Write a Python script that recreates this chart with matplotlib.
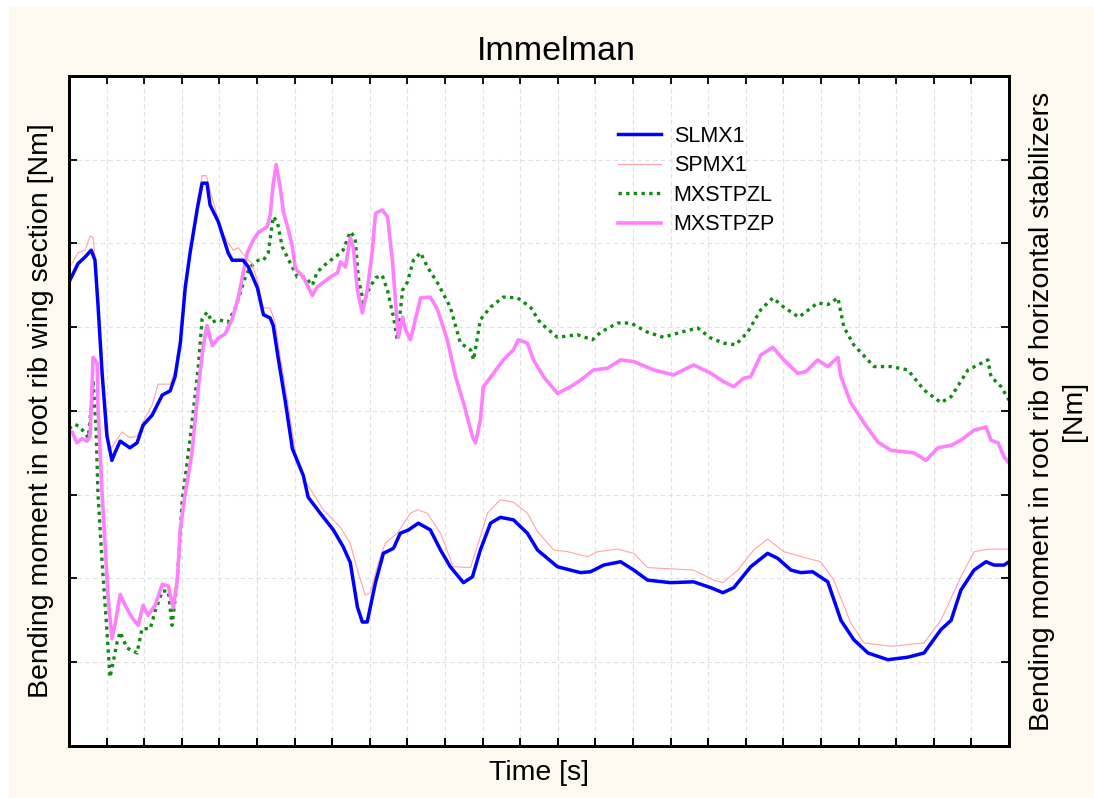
import matplotlib
matplotlib.use('Agg')
import matplotlib.pyplot as plt
from matplotlib.patches import Rectangle
from matplotlib.ticker import MultipleLocator

plt.rcParams['font.family'] = ['Liberation Sans', 'DejaVu Sans']

# time axis in arbitrary units (25 tick intervals), moments in tick units (0..8)
slmx1_t = [0.00, 0.24, 0.43, 0.59, 0.69, 0.77, 0.88, 1.01, 1.14, 1.22,
           1.36, 1.62, 1.81, 1.97, 2.21, 2.48, 2.69, 2.82, 2.96, 3.09,
           3.22, 3.41, 3.54, 3.67, 3.75, 3.97, 4.23, 4.34, 4.63, 4.77,
           5.01, 5.17, 5.35, 5.43, 5.56, 5.75, 5.94, 6.23, 6.36, 6.68,
           7.03, 7.29, 7.48, 7.67, 7.80, 7.93, 8.15, 8.36, 8.63, 8.81,
           9.03, 9.29, 9.61, 9.88, 10.14, 10.49, 10.73, 10.94, 11.21, 11.47,
           11.82, 12.19, 12.46, 12.99, 13.60, 13.87, 14.22, 14.67, 15.02, 15.39,
           16.00, 16.61, 17.07, 17.39, 17.68, 18.13, 18.58, 18.85, 19.20, 19.46,
           19.78, 20.18, 20.53, 20.87, 21.25, 21.78, 22.31, 22.74, 23.19, 23.46,
           23.72, 24.07, 24.39, 24.60, 24.87, 25.00]
slmx1_v = [5.54, 5.76, 5.84, 5.92, 5.80, 5.27, 4.45, 3.70, 3.41, 3.50,
           3.64, 3.56, 3.62, 3.83, 3.95, 4.19, 4.24, 4.41, 4.81, 5.47,
           5.89, 6.41, 6.72, 6.72, 6.46, 6.26, 5.89, 5.80, 5.80, 5.72,
           5.47, 5.15, 5.11, 5.02, 4.64, 4.12, 3.55, 3.23, 2.97, 2.78,
           2.58, 2.38, 2.19, 1.66, 1.48, 1.48, 1.95, 2.30, 2.36, 2.54,
           2.58, 2.66, 2.58, 2.34, 2.14, 1.95, 2.02, 2.34, 2.66, 2.73,
           2.70, 2.54, 2.34, 2.14, 2.07, 2.08, 2.16, 2.20, 2.10, 1.98,
           1.95, 1.96, 1.89, 1.83, 1.89, 2.14, 2.30, 2.24, 2.10, 2.07,
           2.08, 1.96, 1.50, 1.27, 1.11, 1.03, 1.06, 1.11, 1.39, 1.50,
           1.86, 2.10, 2.20, 2.16, 2.16, 2.20]

spmx1_t = [0.00, 0.24, 0.43, 0.56, 0.64, 0.69, 0.77, 0.88, 0.96, 1.09,
           1.22, 1.41, 1.62, 1.81, 1.97, 2.21, 2.37, 2.69, 2.82, 2.96,
           3.09, 3.22, 3.41, 3.54, 3.65, 3.81, 4.07, 4.23, 4.37, 4.50,
           4.69, 4.87, 5.03, 5.17, 5.35, 5.48, 5.62, 5.80, 6.02, 6.28,
           6.50, 6.76, 7.22, 7.48, 7.67, 7.88, 8.01, 8.23, 8.41, 8.73,
           9.08, 9.27, 9.53, 9.88, 10.22, 10.68, 10.94, 11.13, 11.47, 11.82,
           12.19, 12.46, 12.89, 13.26, 13.79, 14.06, 14.59, 15.02, 15.39, 16.61,
           17.15, 17.39, 17.79, 18.21, 18.58, 19.01, 19.65, 19.99, 20.34, 20.79,
           21.14, 21.86, 22.74, 23.19, 23.72, 24.07, 24.44, 25.00]
spmx1_v = [5.70, 5.89, 5.92, 6.09, 6.07, 5.84, 5.27, 4.45, 3.75, 3.53,
           3.62, 3.75, 3.68, 3.70, 3.87, 4.07, 4.32, 4.32, 4.49, 4.90,
           5.55, 5.92, 6.50, 6.81, 6.81, 6.54, 6.13, 6.01, 5.92, 5.95,
           5.84, 5.76, 5.52, 5.23, 5.23, 5.06, 4.64, 4.16, 3.50, 3.16,
           3.01, 2.82, 2.61, 2.42, 2.10, 1.80, 1.83, 2.19, 2.42, 2.54,
           2.78, 2.82, 2.78, 2.54, 2.14, 2.13, 2.50, 2.78, 2.94, 2.91,
           2.78, 2.56, 2.34, 2.32, 2.26, 2.32, 2.35, 2.30, 2.13, 2.10,
           1.98, 1.95, 2.10, 2.34, 2.47, 2.32, 2.24, 2.20, 1.98, 1.47,
           1.23, 1.19, 1.23, 1.50, 2.02, 2.32, 2.35, 2.35]

mxstpzl_t = [0.00, 0.16, 0.29, 0.43, 0.51, 0.59, 0.64, 0.72, 0.77, 0.88,
             1.01, 1.09, 1.17, 1.28, 1.36, 1.54, 1.81, 1.94, 2.16, 2.29,
             2.48, 2.64, 2.74, 2.88, 3.01, 3.22, 3.43, 3.54, 3.67, 3.81,
             3.97, 4.23, 4.42, 4.69, 4.82, 5.03, 5.17, 5.30, 5.43, 5.54,
             5.67, 5.88, 6.07, 6.28, 6.47, 6.60, 6.87, 7.14, 7.29, 7.48,
             7.61, 7.69, 7.83, 7.96, 8.15, 8.33, 8.47, 8.63, 8.73, 8.87,
             9.00, 9.16, 9.35, 9.53, 9.80, 10.14, 10.41, 10.68, 10.76, 10.94,
             11.21, 11.55, 11.93, 12.27, 12.54, 12.99, 13.52, 13.92, 14.14, 14.59,
             14.94, 15.39, 15.81, 16.27, 16.72, 17.07, 17.41, 17.73, 18.05, 18.40,
             18.72, 19.01, 19.41, 19.91, 20.18, 20.45, 20.61, 20.87, 21.41, 21.86,
             22.31, 22.74, 23.19, 23.46, 23.91, 24.44, 24.52, 24.79, 25.00]
mxstpzl_v = [3.79, 3.84, 3.81, 3.73, 3.68, 4.05, 4.36, 3.77, 3.01, 2.19,
             1.36, 0.82, 0.99, 1.24, 1.36, 1.17, 1.11, 1.40, 1.40, 1.61,
             1.85, 1.85, 1.44, 1.98, 2.93, 3.67, 4.49, 5.10, 5.18, 5.06,
             5.09, 5.06, 5.23, 5.60, 5.72, 5.80, 5.80, 5.89, 6.32, 6.26,
             5.96, 5.77, 5.60, 5.60, 5.50, 5.66, 5.77, 5.86, 5.92, 6.14,
             6.07, 5.60, 5.29, 5.44, 5.59, 5.62, 5.44, 5.12, 4.85, 5.44,
             5.54, 5.80, 5.89, 5.72, 5.53, 5.24, 4.81, 4.73, 4.61, 5.09,
             5.24, 5.36, 5.35, 5.24, 5.05, 4.88, 4.91, 4.85, 4.94, 5.05,
             5.05, 4.94, 4.88, 4.94, 4.99, 4.87, 4.81, 4.79, 4.94, 5.21,
             5.35, 5.24, 5.12, 5.29, 5.27, 5.35, 5.00, 4.79, 4.53, 4.53,
             4.49, 4.25, 4.10, 4.17, 4.49, 4.61, 4.41, 4.29, 4.13]

mxstpzp_t = [0.00, 0.08, 0.21, 0.35, 0.48, 0.56, 0.64, 0.75, 0.77, 0.88,
             0.96, 1.04, 1.14, 1.22, 1.36, 1.49, 1.68, 1.84, 1.97, 2.10,
             2.29, 2.48, 2.64, 2.77, 2.88, 2.96, 3.09, 3.27, 3.43, 3.57,
             3.67, 3.81, 3.97, 4.15, 4.34, 4.50, 4.61, 4.74, 4.90, 5.03,
             5.27, 5.35, 5.43, 5.51, 5.62, 5.70, 5.83, 5.94, 6.02, 6.23,
             6.47, 6.60, 6.95, 7.14, 7.22, 7.35, 7.48, 7.56, 7.67, 7.80,
             7.93, 8.07, 8.15, 8.33, 8.47, 8.60, 8.68, 8.76, 8.87, 8.95,
             9.08, 9.21, 9.35, 9.61, 9.80, 10.06, 10.28, 10.49, 10.73, 10.81,
             10.94, 11.02, 11.29, 11.55, 11.82, 11.95, 12.19, 12.35, 12.62, 12.99,
             13.34, 13.61, 13.95, 14.32, 14.67, 15.02, 15.55, 16.08, 16.61, 17.07,
             17.41, 17.68, 17.94, 18.13, 18.40, 18.72, 19.01, 19.38, 19.60, 19.91,
             20.18, 20.45, 20.53, 20.79, 21.14, 21.51, 21.86, 22.47, 22.79, 23.11,
             23.46, 23.72, 24.07, 24.39, 24.52, 24.71, 24.87, 25.00]
mxstpzp_v = [3.75, 3.75, 3.62, 3.67, 3.64, 3.70, 4.64, 4.57, 4.04, 3.01,
             2.39, 1.77, 1.28, 1.44, 1.81, 1.68, 1.53, 1.44, 1.68, 1.56,
             1.68, 1.93, 1.91, 1.65, 1.98, 2.59, 3.01, 3.50, 4.24, 4.78,
             5.02, 4.78, 4.87, 4.92, 5.10, 5.35, 5.60, 5.89, 6.04, 6.13,
             6.20, 6.34, 6.71, 6.94, 6.66, 6.38, 6.17, 5.96, 5.70, 5.60,
             5.38, 5.48, 5.60, 5.65, 5.78, 5.72, 6.07, 5.96, 5.44, 5.17,
             5.44, 5.92, 6.36, 6.40, 6.32, 5.80, 5.33, 4.88, 5.12, 4.97,
             4.85, 5.09, 5.35, 5.36, 5.21, 4.85, 4.41, 4.10, 3.69, 3.62,
             3.89, 4.29, 4.45, 4.61, 4.73, 4.85, 4.81, 4.61, 4.41, 4.21,
             4.29, 4.37, 4.49, 4.51, 4.61, 4.59, 4.49, 4.43, 4.55, 4.45,
             4.35, 4.29, 4.39, 4.41, 4.67, 4.76, 4.61, 4.45, 4.47, 4.61,
             4.53, 4.64, 4.41, 4.10, 3.86, 3.63, 3.53, 3.50, 3.41, 3.56,
             3.59, 3.65, 3.77, 3.81, 3.65, 3.62, 3.45, 3.38]

cream = '#fdf9ee'

fig = plt.figure(figsize=(10.94, 7.98), dpi=100, facecolor=cream)
# thin white margin on the left and top edges of the original picture
fig.patches.append(Rectangle((0, 0), 0.0082, 1, transform=fig.transFigure,
                             facecolor='white', edgecolor='none', zorder=-10))
fig.patches.append(Rectangle((0, 0.9912), 1, 0.0088, transform=fig.transFigure,
                             facecolor='white', edgecolor='none', zorder=-10))

pos = [0.0631, 0.0652, 0.8592, 0.8396]
ax2 = fig.add_axes(pos)            # right axis (stabilizers), drawn underneath
ax = fig.add_axes(pos, sharex=ax2)  # left axis (wing section), on top
ax.patch.set_visible(False)
ax2.yaxis.tick_right()
ax2.yaxis.set_label_position('right')

l3, = ax2.plot(mxstpzl_t, mxstpzl_v, color='#128a12', lw=2.4,
               linestyle=(0, (1, 1.3)), label='MXSTPZL')
l4, = ax2.plot(mxstpzp_t, mxstpzp_v, color='#ff80ff', lw=2.6, label='MXSTPZP')
l2, = ax.plot(spmx1_t, spmx1_v, color='#ffa4a4', lw=0.8, label='SPMX1')
l1, = ax.plot(slmx1_t, slmx1_v, color='#0000ff', lw=2.5, label='SLMX1')

for a in (ax, ax2):
    a.set_xlim(0, 25)
    a.set_ylim(0, 8)
    a.xaxis.set_major_locator(MultipleLocator(1))
    a.yaxis.set_major_locator(MultipleLocator(1))
    for s in a.spines.values():
        s.set_linewidth(2)

ax2.grid(True, color='#e0e0e0', lw=0.8, linestyle=(0, (4, 3)))
ax.tick_params(axis='both', direction='in', length=6, width=1.3, top=True,
               labelbottom=False, labelleft=False)
ax2.tick_params(axis='both', direction='in', length=6, width=1.3,
                labelbottom=False, labelright=False, labelleft=False)

ax.set_title('Immelman', fontsize=24.5, x=0.519, pad=11.5)
ax.set_xlabel('Time [s]', fontsize=20.5)
ax.xaxis.set_label_coords(0.5, -0.021)
ax.set_ylabel('Bending moment in root rib wing section [Nm]', fontsize=20.5)
ax.yaxis.set_label_coords(-0.016, 0.5)
ax2.set_ylabel('Bending moment in root rib of horizontal stabilizers\n[Nm]',
               fontsize=20.5, linespacing=1.3)
ax2.yaxis.set_label_coords(1.021, 0.5)

ax.legend([l1, l2, l3, l4], ['SLMX1', 'SPMX1', 'MXSTPZL', 'MXSTPZP'],
          loc='upper left', bbox_to_anchor=(609 / 1094, 1 - 117 / 798),
          bbox_transform=fig.transFigure, frameon=False, fontsize=15.5,
          handlelength=2.0, handletextpad=0.6, labelspacing=0.4,
          borderaxespad=0)

fig.savefig('out.png', dpi=100, facecolor=fig.get_facecolor())
